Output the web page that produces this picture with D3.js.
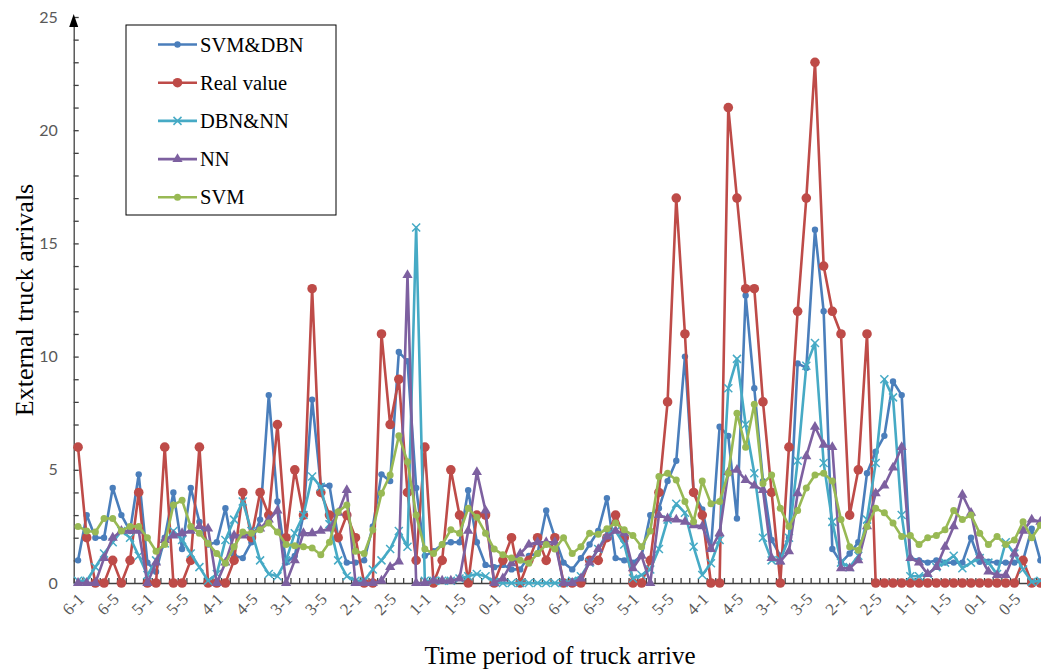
<!DOCTYPE html>
<html>
<head>
<meta charset="utf-8">
<script src="https://cdn.jsdelivr.net/npm/d3@7"></script>
<style>
  body { margin: 0; background: #fff; }
  .axis path, .axis line { stroke: #404040; stroke-width: 1.3; }
  .ylab text { font-family: Lato, "Open Sans", sans-serif; font-size: 16px; fill: #595959; }
  .xlab text { font-family: "Liberation Serif", "Times New Roman", serif; font-size: 17px; fill: #595959; }
</style>
</head>
<body>
<div class="chart"></div>
<script>
// categories: day-slot, 14 days x 8 slots
var days = ['6', '5', '4', '3', '2', '1', '0', '6', '5', '4', '3', '2', '1', '0'];
var slots = [1, 2, 3, 4, 5, 6, 7, 8];
var categories = [];
days.forEach(function(d) { slots.forEach(function(s) { categories.push(d + '-' + s); }); });

var yTicks = [0, 5, 10, 15, 20, 25];

var svmDbn = [1, 3, 2, 2, 4.2, 3, 2.3, 4.8, 0.9, 0.5, 2, 4, 1.5, 4.2, 2.7, 1.7, 1.8, 3.3, 1.2, 1.1,
  1.8, 2.8, 8.3, 3.6, 0.9, 1.2, 3, 8.1, 4.3, 4.3, 2, 0.9, 0.9, 1, 2.5, 4.8, 4.5, 10.2, 9.8, 4.2,
  1.2, 1.4, 1.7, 1.8, 1.8, 4.1, 1.8, 0.8, 0.7, 0.8, 0.6, 0.6, 1.2, 1.3, 3.2, 2, 0.9, 0.6, 1.1, 1.7,
  2.3, 3.75, 1.1, 1, 0.9, 1.2, 3, 3.3, 4.5, 5.4, 10, 4, 3.25, 1.5, 6.9, 6.5, 2.85, 12.7, 8.6, 4.5,
  1.9, 1.2, 2, 9.7, 9.5, 15.6, 12, 1.5, 0.9, 1.3, 1.8, 4.85, 5.8, 6.5, 8.9, 8.3, 1.1, 1, 0.9, 1,
  0.9, 0.9, 0.9, 2, 0.94, 0.94, 0.9, 0.9, 0.9, 1, 2.4, 1];

var realValue = [6, 2, 0, 0, 1, 0, 1, 4, 0, 0, 6, 0, 0, 1, 6, 0, 0, 0, 1, 4,
  2, 4, 3, 7, 2, 5, 3, 13, 4, 3, 2, 3, 2, 0, 0, 11, 7, 9, 4, 1,
  6, 0, 1, 5, 3, 0, 3, 3, 0, 1, 2, 0, 1, 2, 1, 2, 0, 0, 0, 1,
  1, 2, 3, 2, 0, 0, 1, 4, 8, 17, 11, 4, 3, 0, 0, 21, 17, 13, 13, 8,
  4, 0, 6, 12, 17, 23, 14, 12, 11, 3, 5, 11, 0, 0, 0, 0, 0, 0, 0, 0,
  0, 0, 0, 0, 0, 0, 0, 0, 0, 1, 0, 0];

var dbnNn = [0.1, 0.1, 0.7, 1.3, 1.8, 2.3, 2, 1.2, 0.35, 1, 1.75, 2.3, 1.9, 1.3, 0.7, 0.1, 0.4, 1.9, 2.8, 3.6,
  2.3, 1, 0.4, 0.3, 1, 2.2, 3, 4.7, 4.25, 2.6, 1, 0.3, 0.1, 0.1, 0.6, 1, 1.5, 2.3, 1.6, 15.7,
  0.1, 0.1, 0.1, 0.1, 0.2, 0.3, 0.4, 0.3, 0.05, 0, 0, 0, 0, 0, 0, 0, 0, 0.1, 0.3, 0.9,
  1.5, 2.2, 2.3, 1.7, 0.2, 0.35, 0.6, 1.5, 2.8, 3.5, 3.1, 1.6, 0.35, 0.87, 1.9, 8.6, 9.9, 7, 4.85, 2,
  1, 1, 2, 5.4, 9.6, 10.6, 5.3, 2.7, 0.9, 0.7, 1.2, 2.8, 5.3, 9, 8.2, 3, 0.3, 0.3, 0.4, 0.7,
  0.9, 1.2, 0.65, 0.9, 1.1, 0.9, 0.4, 1.8, 1.3, 0.6, 0.05, 0.1];

var nn = [0, 0, 0, 1.1, 2, 2.3, 2.3, 2.3, 0, 0.9, 1.9, 2.1, 2.2, 2.3, 2.5, 2.4, 0, 0.9, 2.1, 2.1,
  2.2, 2.4, 2.8, 3.2, 0, 1, 2.2, 2.2, 2.3, 2.4, 3.1, 4.1, 0, 0, 0, 0.1, 0.7, 0.95, 13.6, 0,
  0, 0.1, 0.1, 0.1, 0.2, 2.3, 4.9, 3.2, 0, 0.2, 0.87, 1.3, 1.7, 1.8, 1.8, 1.8, 0, 0, 0.2, 0.9,
  1.5, 2.05, 2.3, 2.2, 0.65, 1.2, 0, 3, 2.85, 2.8, 2.7, 2.55, 2.5, 1.5, 2.2, 4.9, 5, 4.55, 4.3, 4.1,
  1.1, 0.95, 1.4, 3.96, 5.6, 6.9, 6.1, 6, 0.65, 0.65, 1, 2.5, 3.96, 4.3, 5.1, 6, 1.1, 0.9, 0.4, 0.7,
  1.6, 2.5, 3.9, 3.1, 1.2, 0.5, 0.35, 0.35, 1.3, 2.3, 2.8, 2.7];

var svm = [2.5, 2.3, 2.25, 2.85, 2.85, 2.3, 2.5, 2.5, 2, 1.4, 1.7, 3.45, 3.65, 2.5, 2.2, 1.75, 1.3, 0.87, 1.6, 2.25,
  2.2, 2.35, 2.65, 2.25, 1.7, 1.65, 1.6, 1.55, 1.25, 1.8, 3.15, 3.45, 1.4, 1.3, 2.35, 3.96, 4.77, 6.5, 5.36, 3,
  1.5, 1.3, 1.7, 2.35, 2.2, 3.3, 2.9, 2.2, 1.5, 1.25, 1.1, 1, 0.87, 1.3, 1.7, 1.5, 2, 1.3, 1.6, 2.2,
  2.15, 2.4, 2.65, 2.35, 2.1, 1.6, 2.3, 4.7, 4.85, 4.55, 3.6, 2.7, 4.5, 3.5, 3.6, 4.85, 7.5, 6, 7.9, 4.4,
  4.77, 3.3, 2.5, 3.2, 4.2, 4.77, 4.85, 4.5, 2.8, 1.6, 1.45, 2.5, 3.3, 3.1, 2.65, 2.05, 2.1, 1.7, 2, 2.1,
  2.35, 3.2, 2.8, 3, 2.2, 1.7, 2.05, 1.7, 1.9, 2.7, 2, 2.55];

var series = [
  {name: 'SVM&DBN', values: svmDbn, color: '#4a7ebb', marker: 'circle', r: 3.2},
  {name: 'Real value', values: realValue, color: '#be4b48', marker: 'circle', r: 4.8},
  {name: 'DBN&NN', values: dbnNn, color: '#46aac5', marker: 'x', r: 4},
  {name: 'NN', values: nn, color: '#7d60a0', marker: 'triangle', r: 4},
  {name: 'SVM', values: svm, color: '#98b954', marker: 'circle', r: 3.5}
];

var chartW = 1041, chartH = 671;
var plotLeft = 73.7, step = 8.67, plotBottom = 583, plotTop = 17;

var svg = d3.select('.chart')
  .append('svg')
  .attr('width', chartW)
  .attr('height', chartH);

// scales
var x = d3.scaleBand()
  .domain(d3.range(categories.length))
  .range([plotLeft, plotLeft + categories.length * step])
  .padding(0);
var xEdge = d3.scaleLinear()
  .domain([0, categories.length])
  .range([plotLeft, plotLeft + categories.length * step]);
var y = d3.scaleLinear()
  .domain([0, 25])
  .range([plotBottom, plotTop]);

function cx(i) { return x(i) + x.bandwidth() / 2; }

// x axis: tick marks at category edges
svg.append('g')
  .attr('class', 'axis')
  .attr('transform', 'translate(0,' + plotBottom + ')')
  .call(d3.axisBottom(xEdge).tickValues(d3.range(categories.length + 1)).tickSizeInner(-5).tickSizeOuter(0).tickFormat(''));

// x labels, every 4th category
var xLab = svg.append('g')
  .attr('class', 'xlab')
  .attr('transform', 'translate(0,' + plotBottom + ')')
  .call(d3.axisBottom(x).tickValues(d3.range(0, categories.length, 4)).tickSize(0).tickFormat(function(i) { return categories[i]; }));
xLab.select('.domain').remove();
xLab.selectAll('text')
  .attr('y', 0)
  .attr('dy', '0.35em')
  .attr('text-anchor', 'end')
  .attr('transform', 'translate(3,13) rotate(-45)');

// y axis
svg.append('g')
  .attr('class', 'axis ylab')
  .attr('transform', 'translate(' + plotLeft + ',0)')
  .call(d3.axisLeft(y).tickValues(d3.range(0, 26)).tickSizeInner(-5).tickSizeOuter(0).tickPadding(16)
    .tickFormat(function(d) { return yTicks.indexOf(d) >= 0 ? d : ''; }));

// arrow head
svg.append('path')
  .attr('d', 'M' + plotLeft + ',' + (plotTop - 3) + 'L' + (plotLeft - 4.5) + ',' + (plotTop + 10) + 'L' + (plotLeft + 4.5) + ',' + (plotTop + 10) + 'Z')
  .attr('fill', '#000');

// series
var line = d3.line()
  .x(function(d, i) { return cx(i); })
  .y(function(d) { return y(d); });

function drawMarker(g, s, px, py) {
  if (s.marker === 'circle') {
    g.append('circle').attr('cx', px).attr('cy', py).attr('r', s.r).attr('fill', s.color);
  } else if (s.marker === 'triangle') {
    g.append('path').attr('d', d3.symbol(d3.symbolTriangle).size(45)())
      .attr('transform', 'translate(' + px + ',' + py + ')').attr('fill', s.color);
  } else {
    var r = s.r;
    g.append('path').attr('d', 'M' + (-r) + ',' + (-r) + 'L' + r + ',' + r + 'M' + (-r) + ',' + r + 'L' + r + ',' + (-r))
      .attr('transform', 'translate(' + px + ',' + py + ')').attr('stroke', s.color).attr('stroke-width', 1.5).attr('fill', 'none');
  }
}

series.forEach(function(s) {
  var g = svg.append('g');
  g.append('path')
    .datum(s.values)
    .attr('d', line)
    .attr('fill', 'none')
    .attr('stroke', s.color)
    .attr('stroke-width', 2.6)
    .attr('stroke-linejoin', 'round');
  s.values.forEach(function(v, i) { drawMarker(g, s, cx(i), y(v)); });
});

// legend
var legend = svg.append('g');
legend.append('rect')
  .attr('x', 126).attr('y', 25).attr('width', 210).attr('height', 190)
  .attr('fill', '#fff').attr('stroke', '#000').attr('stroke-width', 1);
series.forEach(function(s, k) {
  var ly = 44.5 + k * 38.2;
  legend.append('line').attr('x1', 158).attr('x2', 197).attr('y1', ly).attr('y2', ly)
    .attr('stroke', s.color).attr('stroke-width', 2.6);
  drawMarker(legend, s, 177.5, ly);
  legend.append('text').attr('x', 200).attr('y', ly).attr('dy', '0.35em')
    .style('font-family', '"Liberation Serif", "Times New Roman", serif').style('font-size', '20.5px')
    .text(s.name);
});

// titles
svg.append('text')
  .attr('x', 560).attr('y', 664)
  .attr('text-anchor', 'middle')
  .style('font-family', '"Liberation Serif", "Times New Roman", serif').style('font-size', '25px')
  .text('Time period of truck arrive');
svg.append('text')
  .attr('transform', 'translate(33,300) rotate(-90)')
  .attr('text-anchor', 'middle')
  .style('font-family', '"Liberation Serif", "Times New Roman", serif').style('font-size', '26px')
  .text('External truck arrivals');
</script>
</body>
</html>
